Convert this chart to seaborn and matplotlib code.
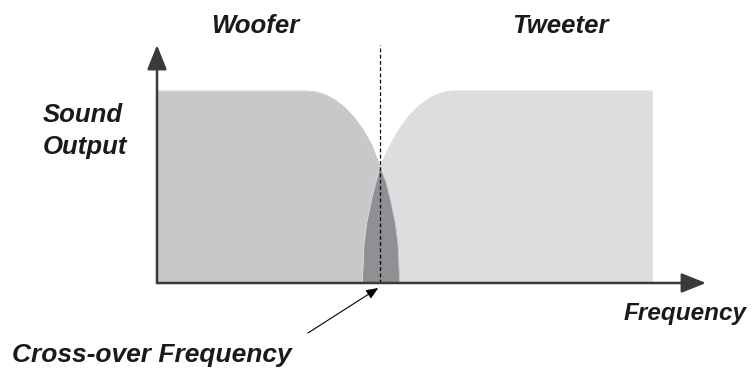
import matplotlib
matplotlib.use("Agg")
import matplotlib.pyplot as plt
import seaborn as sns

# response curves (frequency / sound output, arbitrary units)
woofer_freq = [0, 27.3, 29.0, 30.7, 32.4, 34.1, 35.8, 37.5, 39.2, 40.6, 41.7, 42.5,
               43.4, 43.9, 44.2]
woofer_level = [80.7, 80.7, 80.3, 79.1, 77.0, 74.0, 69.9, 64.6, 57.6, 49.0, 42.5,
                35.2, 25.2, 16.1, 0]
tweeter_freq = [37.4, 37.7, 38.2, 39.1, 39.9, 40.6, 42.4, 44.1, 45.8, 47.5, 49.2,
                50.9, 52.6, 54.3, 90.2, 90.2]
tweeter_level = [0, 16.1, 25.2, 35.2, 42.5, 49.0, 57.6, 64.6, 69.9, 74.0, 77.0,
                 79.1, 80.3, 80.7, 80.7, 0]
crossover = 40.6

labels = {"woofer": "Woofer", "tweeter": "Tweeter", "y1": "Sound", "y2": "Output",
          "x": "Frequency", "cross": "Cross-over Frequency"}

c_woofer = "#c7c8ca"
c_tweeter = "#dcdddf"
c_overlap = "#8f9093"

sns.set_theme(style="white")
plt.rcParams["font.family"] = ["Liberation Sans", "DejaVu Sans"]

W, H = 756, 368
fig = plt.figure(figsize=(W / 100, H / 100), dpi=100)
ax = fig.add_axes([157 / W, 1 - 283 / H, 549 / W, 238 / H])
ax.set_xlim(0, 100)
ax.set_ylim(0, 100)
ax.axis("off")

# filled areas
ax.fill_between(woofer_freq, woofer_level, color=c_woofer, lw=0)
ax.fill(tweeter_freq + [tweeter_freq[0]], tweeter_level + [0], color=c_tweeter, lw=0)
sns.lineplot(x=woofer_freq, y=woofer_level, ax=ax, color=c_woofer, lw=0.6,
             estimator=None, sort=False)
sns.lineplot(x=tweeter_freq, y=tweeter_level, ax=ax, color=c_tweeter, lw=0.6,
             estimator=None, sort=False)

# overlap: tweeter rising edge up to the crossover, then woofer falling edge
ov_x = [f for f in tweeter_freq if f <= crossover] + [f for f in woofer_freq if f > crossover]
ov_y = ([l for f, l in zip(tweeter_freq, tweeter_level) if f <= crossover]
        + [l for f, l in zip(woofer_freq, woofer_level) if f > crossover])
ax.fill(ov_x, ov_y, color=c_overlap, lw=0)

# crossover line
ax.plot([crossover, crossover], [0, 100], ls=(0, (3, 2)), color="black", lw=0.9,
        clip_on=False)

# axes with arrows
arrow = dict(arrowstyle="-|>,head_length=0.75,head_width=0.3", color="#3a3a3a",
             lw=1.8, shrinkA=0, shrinkB=0, mutation_scale=20)
ax.annotate("", xy=(0, 100), xytext=(0, 0), arrowprops=arrow, annotation_clip=False)
ax.annotate("", xy=(100, 0), xytext=(0, 0), arrowprops=arrow, annotation_clip=False)

# crossover pointer
ax.annotate("", xy=(40.3, -2.1), xytext=(27.5, -21),
            arrowprops=dict(arrowstyle="-|>,head_length=0.6,head_width=0.25",
                            color="black", lw=0.8, shrinkA=0, shrinkB=0,
                            mutation_scale=12),
            annotation_clip=False)

font = dict(fontsize=18.5, fontweight="bold", fontstyle="italic", color="#1a1a1a",
            va="baseline")
fig.text(255 / W, 1 - 33 / H, labels["woofer"], ha="center", **font)
fig.text(560 / W, 1 - 33 / H, labels["tweeter"], ha="center", **font)
fig.text(43 / W, 1 - 122 / H, labels["y1"], ha="left", **font)
fig.text(43 / W, 1 - 154 / H, labels["y2"], ha="left", **font)
fig.text(747 / W, 1 - 320 / H, labels["x"], ha="right", **dict(font, fontsize=17.5))
fig.text(12 / W, 1 - 362 / H, labels["cross"], ha="left", **dict(font, fontsize=19))

fig.savefig("out.png", dpi=100)
